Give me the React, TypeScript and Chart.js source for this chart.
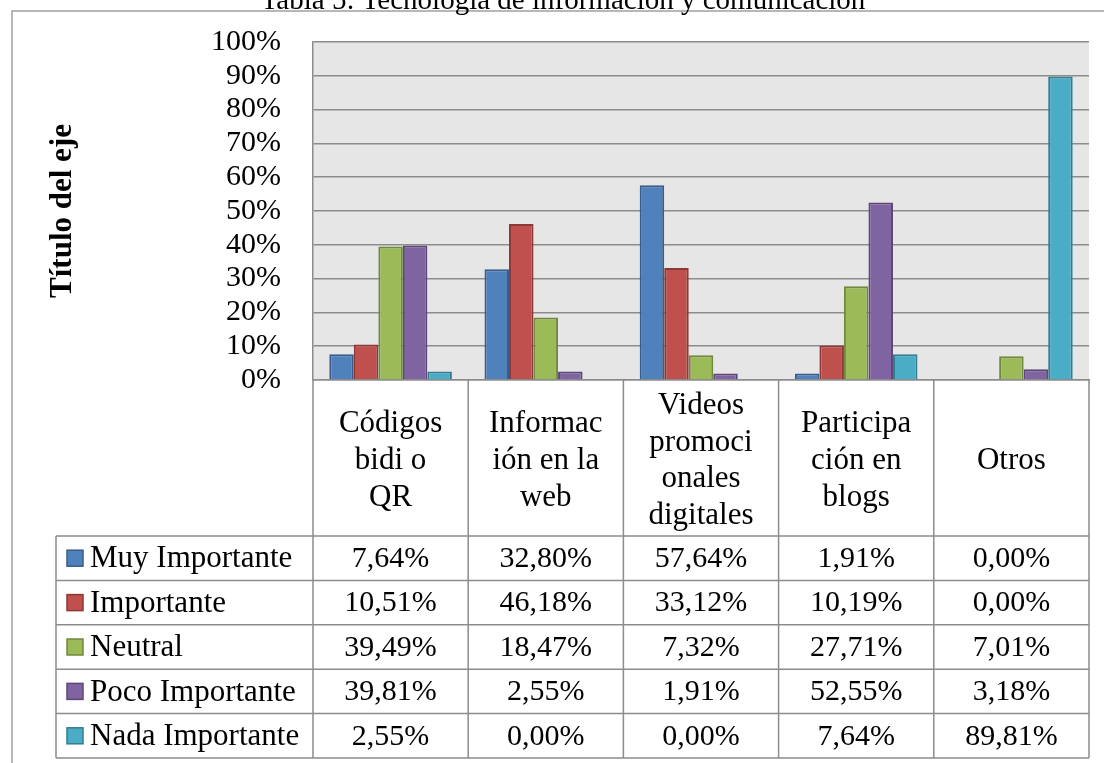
import React, { useEffect, useRef } from "react";
import { Chart, registerables } from "chart.js";

Chart.register(...registerables);

const TITLE = "Tabla 5: Tecnología de información y comunicación";
const AXIS_TITLE = "Título del eje";

const categories: string[][] = [
  ["Códigos", "bidi o", "QR"],
  ["Informac", "ión en la", "web"],
  ["Videos", "promoci", "onales", "digitales"],
  ["Participa", "ción en", "blogs"],
  ["Otros"],
];

const seriesNames = ["Muy Importante", "Importante", "Neutral", "Poco Importante", "Nada Importante"];

const muyImportante = [7.64, 32.8, 57.64, 1.91, 0.0];
const importante = [10.51, 46.18, 33.12, 10.19, 0.0];
const neutral = [39.49, 18.47, 7.32, 27.71, 7.01];
const pocoImportante = [39.81, 2.55, 1.91, 52.55, 3.18];
const nadaImportante = [2.55, 0.0, 0.0, 7.64, 89.81];

const fills = ["#4F81BD", "#C0504D", "#9BBB59", "#8064A2", "#4BACC6"];
const borders = ["#385D8A", "#8C3836", "#71893F", "#5C4776", "#357D91"];

const SERIF = "'Liberation Serif', 'Times New Roman', serif";
const LINE = "#8c8c8c";

const fmt = (v: number) => v.toFixed(2).replace(".", ",") + "%";

const tablePlugin = {
  id: "dataTable",
  beforeDraw(chart: any) {
    const { ctx, chartArea } = chart;
    ctx.save();
    ctx.fillStyle = "#e6e6e6";
    ctx.fillRect(chartArea.left, chartArea.top, chartArea.right - chartArea.left, chartArea.bottom - chartArea.top);
    ctx.restore();
  },
  afterDraw(chart: any) {
    const { ctx, chartArea } = chart;
    const xs = chart.scales.x;
    const n = chart.data.labels.length;
    const colW = xs.getPixelForValue(1) - xs.getPixelForValue(0);
    const bounds: number[] = [];
    for (let i = 0; i <= n; i++) bounds.push(xs.getPixelForValue(0) - colW / 2 + i * colW);

    const catBottom = chartArea.bottom + 156;
    const rowH = 44.4;
    const rows = chart.data.datasets.length;
    const tableBottom = catBottom + rowH * rows;
    const legendLeft = 56;

    ctx.save();
    // outer chart border
    ctx.strokeStyle = "#a0a0a0";
    ctx.lineWidth = 1.5;
    ctx.strokeRect(12, 11, 1300, 1000);

    // title
    ctx.fillStyle = "#000";
    ctx.font = `29px ${SERIF}`;
    ctx.textAlign = "center";
    ctx.textBaseline = "alphabetic";
    ctx.fillText(TITLE, 563, 9);

    // table grid
    ctx.strokeStyle = LINE;
    ctx.lineWidth = 1.5;
    ctx.beginPath();
    bounds.forEach((x) => {
      ctx.moveTo(x, chartArea.bottom);
      ctx.lineTo(x, tableBottom);
    });
    ctx.moveTo(legendLeft, catBottom);
    ctx.lineTo(legendLeft, tableBottom);
    for (let r = 0; r <= rows; r++) {
      const y = catBottom + r * rowH;
      ctx.moveTo(legendLeft, y);
      ctx.lineTo(bounds[n], y);
    }
    ctx.stroke();

    // rows
    ctx.textBaseline = "middle";
    chart.data.datasets.forEach((ds: any, r: number) => {
      const cy = catBottom + rowH * (r + 0.5);
      ctx.fillStyle = ds.backgroundColor;
      ctx.strokeStyle = ds.borderColor;
      ctx.lineWidth = 1.5;
      ctx.fillRect(67, cy - 8, 16, 16);
      ctx.strokeRect(67, cy - 8, 16, 16);
      ctx.fillStyle = "#000";
      ctx.textAlign = "left";
      ctx.font = `31px ${SERIF}`;
      ctx.fillText(ds.label, 90, cy + 1);
      ctx.textAlign = "center";
      ctx.font = `30px ${SERIF}`;
      ds.data.forEach((v: number, i: number) => {
        ctx.fillText(fmt(v), xs.getPixelForValue(i), cy + 1);
      });
    });
    ctx.restore();
  },
};

export default function App() {
  const ref = useRef<HTMLCanvasElement | null>(null);

  useEffect(() => {
    if (!ref.current) return;
    const seriesData = [muyImportante, importante, neutral, pocoImportante, nadaImportante];
    const chart = new Chart(ref.current, {
      type: "bar",
      data: {
        labels: categories,
        datasets: seriesNames.map((name, i) => ({
          label: name,
          data: seriesData[i],
          backgroundColor: fills[i],
          borderColor: borders[i],
          borderWidth: (c: any) => (c.raw === 0 ? 0 : 2),
          categoryPercentage: 0.79,
          barPercentage: 1,
        })),
      },
      options: {
        animation: false,
        responsive: false,
        devicePixelRatio: 1,
        layout: { padding: { top: 42, right: 15, left: 0, bottom: 0 } },
        plugins: {
          legend: { display: false },
          title: { display: false },
          tooltip: { enabled: false },
        },
        scales: {
          x: {
            grid: { display: false, drawTicks: false },
            border: { display: true, color: LINE, width: 1.5 },
            ticks: {
              color: "#000",
              font: { family: SERIF, size: 31, lineHeight: 1.18 },
              padding: 26,
              crossAlign: "center",
              autoSkip: false,
              maxRotation: 0,
              minRotation: 0,
            },
            afterFit: (s: any) => {
              s.height = 383;
              s.paddingLeft = 0;
              s.paddingRight = 0;
            },
          },
          y: {
            min: 0,
            max: 100,
            ticks: {
              stepSize: 10,
              autoSkip: false,
              color: "#000",
              font: { family: SERIF, size: 30 },
              padding: 32,
              callback: (v: any) => v + "%",
            },
            grid: { color: LINE, lineWidth: 1.5, drawTicks: false },
            border: { display: true, color: LINE, width: 1.5 },
            title: {
              display: true,
              text: AXIS_TITLE,
              color: "#000",
              font: { family: SERIF, size: 31, weight: "bold" },
              padding: { top: 44, bottom: 0 },
            },
            afterFit: (s: any) => {
              s.width = 313;
              s.paddingTop = 0;
              s.paddingBottom = 0;
            },
          },
        },
      },
      plugins: [tablePlugin],
    } as any);
    return () => chart.destroy();
  }, []);

  return (
    <div style={{ position: "absolute", left: 0, top: 0, width: 1104, height: 763, background: "#fff" }}>
      <canvas ref={ref} width={1104} height={763} style={{ display: "block" }} />
    </div>
  );
}
